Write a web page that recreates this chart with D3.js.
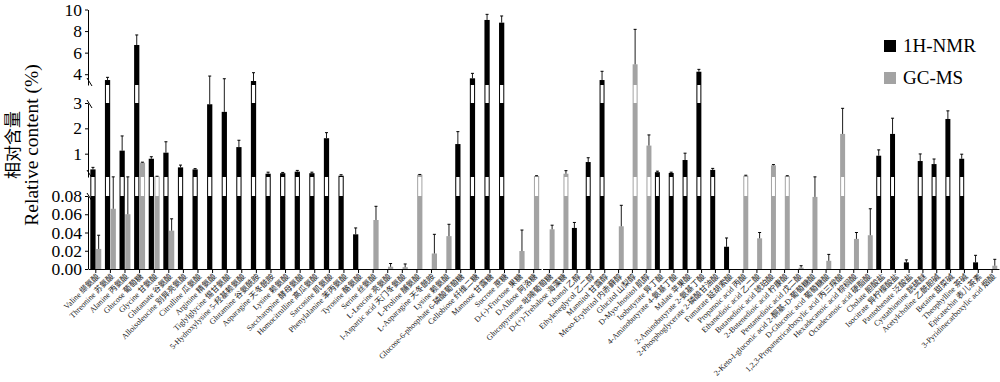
<!DOCTYPE html>
<html><head><meta charset="utf-8">
<script src="https://cdn.jsdelivr.net/npm/d3@7"></script>
<style>body{margin:0;background:#fff}svg{display:block}</style>
</head><body><svg id="c" width="1000" height="382"></svg>
<script>
const categories = [
"Valine 缬氨酸","Threonine 苏氨酸","Alanine 丙氨酸","Glucose 葡萄糖","Glycine 甘氨酸","Glutamate 谷氨酸",
"Alloisoleucine 别异亮氨酸","Citrulline 瓜氨酸","Arginine 精氨酸","Tiglylglycine 惕甘氨酸","5-Hydroxylysine 5-羟基赖氨酸",
"Glutamine 谷氨酰胺","Asparagine 天冬酰胺","Lysine 赖氨酸","Saccharopine 酵母氨酸","Homocitrulline 高瓜氨酸",
"Sarcosine 肌氨酸","Phenylalanine 苯丙氨酸","Tyrosine 酪氨酸","Serine 丝氨酸","L-Leucine 亮氨酸","l-Aspartic acid 天门冬氨酸",
"L-Proline 脯氨酸","L-Asparagine 天冬酰胺","Lysine 赖氨酸","Glucose-6-phosphate 6-磷酸葡萄糖","Cellobiose 纤维二糖",
"Mannose 甘露糖","Sucrose 蔗糖","D-(-)-Fructose 果糖","D-Allose 阿洛糖","Glucopyranose 吡喃葡萄糖","D-(+)-Trehalose 海藻糖",
"Ethanol 乙醇","Ethyleneglycol 乙二醇","Mannitol 甘露醇","Meso-Erythritol 内赤藓醇","Glucitol 山梨醇","D-Myo-Inositol 肌醇",
"Isobutyrate 异丁酸","4-Aminobutyrate 4-氨基丁酸","Malate 苹果酸","2-Aminobutyrate 2-氨基丁酸","2-Phosphoglycerate 2-磷酸甘油酸",
"Fumarate 延胡索酸","Propanoic acid 丙酸","Ethanedioic acid 乙二酸","Butanedioic acid 琥珀酸","2-Butenedioic acid 柠康酸",
"Pentanedioic acid 戊二酸","2-Keto-l-gluconic acid 2-酮基-D-葡萄糖酸","D-Gluconic acid 葡萄糖酸","1,2,3-Propanetricarboxylic acid 丙三羧酸",
"Hexadecanoic acid 棕榈酸","Octadecanoic acid 硬脂酸","Cholate 胆酸盐","Isocitrate 异柠檬酸盐","Pantothenate 泛酸盐",
"Cystathionine 胱硫醚","Acetylcholine 乙酰胆碱","Betaine 甜菜碱","Theophylline 茶碱","Epicatechin 表儿茶素","3-Pyridinecarboxylic acid 烟酸"
];
const nmrValues = [0.38,3.46,1.12,6.71,0.80,1.04,0.46,0.38,2.95,2.65,1.26,3.37,0.21,0.23,0.29,0.23,1.61,0.13,0.038,
null,null,null,null,null,null,1.38,3.62,9.03,8.78,null,null,null,null,0.045,0.67,3.46,null,null,null,0.27,0.24,0.75,4.23,0.36,0.0244,
null,null,null,null,null,null,null,null,null,null,0.92,1.78,0.0073,0.71,0.59,2.37,0.80,0.0073,null];
const nmrErrors = [0.08,0.25,0.58,0.93,0.08,0.43,0.09,0.03,0.88,0.93,0.27,0.77,0.06,0.03,0.05,0.04,0.22,0.04,0.007,
null,null,null,null,null,null,0.49,0.46,0.52,0.62,null,null,null,null,0.006,0.17,0.81,null,null,null,0.04,0.03,0.27,0.22,0.06,0.0096,
null,null,null,null,null,null,null,null,null,null,0.23,0.62,0.0027,0.28,0.20,0.32,0.18,0.0077,null];
const gcValues = [0.022,0.066,0.06,0.645,0.10,0.042,null,null,null,null,null,null,null,null,null,null,null,null,null,
0.0537,0.0025,0.002,0.17,0.017,0.036,null,null,null,null,0.0197,0.12,0.0435,0.21,null,null,null,0.0468,4.92,1.32,
null,null,null,null,null,null,0.13,0.0336,0.54,0.12,0.0015,0.079,0.009,1.78,0.033,0.037,null,null,null,null,null,null,null,null,0.0036];
const gcErrors = [0.015,0.019,0.025,0.02,0.01,0.013,null,null,null,null,null,null,null,null,null,null,null,null,null,
0.015,0.0035,0.0035,0.01,0.021,0.013,null,null,null,null,0.023,0.01,0.0045,0.12,null,null,null,0.023,3.24,0.42,
null,null,null,null,null,null,0.02,0.0064,0.03,0.01,0.0021,0.006,0.007,1.01,0.007,0.029,null,null,null,null,null,null,null,null,0.007];
const yTicksLow = [0,0.02,0.04,0.06,0.08];
const yTicksMid = [1,2,3];
const yTicksHigh = [4,6,8,10];
const seriesNames = ["1H-NMR","GC-MS"];
const seriesColors = ["#000000","#a3a3a3"];
const panelSplit = 31;

const svg = d3.select("#c");
const serif = "'Liberation Serif','Times New Roman','Noto Sans CJK SC',serif";
const axisX = 88, baseY = 269;

const segs = [
  {s: d3.scaleLinear().domain([0,0.08]).range([baseY,196]), ticks: yTicksLow, fmt: d3.format(".2f")},
  {s: d3.scaleLinear().domain([0.08,3]).range([177,103]), ticks: yTicksMid, fmt: d3.format("d")},
  {s: d3.scaleLinear().domain([3,10]).range([85,9.5]), ticks: yTicksHigh, fmt: d3.format("d")}
];
function y(v){
  for (const g of segs){ if (v <= g.s.domain()[1]) return g.s(v); }
  return segs[2].s(v);
}

// y axes
segs.forEach(g=>{
  const ax = svg.append("g").attr("transform",`translate(${axisX},0)`)
    .call(d3.axisLeft(g.s).tickValues(g.ticks).tickFormat(g.fmt).tickSize(3).tickSizeOuter(0));
  ax.select(".domain").attr("stroke","#000");
  ax.selectAll("text").attr("font-family",serif).attr("font-size",17.5).attr("fill","#000").attr("x",-6);
});
// break marks
[segs[2].s.range()[0], segs[1].s.range()[1], segs[1].s.range()[0], segs[0].s.range()[1]].forEach((yy,k)=>{
  const off = (k%2===0) ? -4 : 0;
  svg.append("line").attr("x1",axisX-1).attr("y1",yy+off-3).attr("x2",axisX+4).attr("y2",yy+off+5)
    .attr("stroke","#000").attr("stroke-width",1);
});

// panels
const idx = categories.map((c,i)=>i);
const panels = [
  {ids: idx.slice(0,panelSplit), range:[88.5,541]},
  {ids: idx.slice(panelSplit), range:[542.5,999]}
];
const x1 = d3.scaleBand().domain([0,1]);
const gapsLow = [segs[0].s.range()[1], segs[1].s.range()[0]];
const gapsHigh = [segs[1].s.range()[1], segs[2].s.range()[0]];

panels.forEach(p=>{
  const x0 = d3.scaleBand().domain(p.ids).range(p.range).paddingInner(0.25).paddingOuter(0.125);
  x1.range([0,x0.bandwidth()]).paddingInner(0.08);
  const xa = svg.append("g").attr("transform",`translate(0,${baseY})`)
    .call(d3.axisBottom(x0).tickSize(4).tickSizeOuter(0).tickFormat(""));
  xa.select(".domain").attr("stroke","#000");
  xa.selectAll(".tick line").attr("stroke","#000");

  const rows = p.ids.map(i=>({i, bars:[
    {s:0,v:nmrValues[i],e:nmrErrors[i]},{s:1,v:gcValues[i],e:gcErrors[i]}
  ].filter(b=>b.v!=null)}));

  const g = svg.append("g").selectAll("g").data(rows).join("g")
    .attr("transform",d=>`translate(${x0(d.i)},0)`);
  const b = g.selectAll("g").data(d=>d.bars).join("g");
  b.append("rect").attr("x",d=>x1(d.s)).attr("width",x1.bandwidth())
    .attr("y",d=>y(d.v)).attr("height",d=>baseY-y(d.v)).attr("fill",d=>seriesColors[d.s]);
  b.filter(d=>d.v>0.08).append("rect").attr("x",d=>x1(d.s)+1).attr("width",x1.bandwidth()-2)
    .attr("y",gapsLow[1]).attr("height",gapsLow[0]-gapsLow[1]).attr("fill","#fff");
  b.filter(d=>d.v>3).append("rect").attr("x",d=>x1(d.s)+1).attr("width",x1.bandwidth()-2)
    .attr("y",gapsHigh[1]).attr("height",gapsHigh[0]-gapsHigh[1]).attr("fill","#fff");
  const eb = b.filter(d=>d.e!=null);
  eb.append("line").attr("x1",d=>x1(d.s)+x1.bandwidth()/2).attr("x2",d=>x1(d.s)+x1.bandwidth()/2)
    .attr("y1",d=>y(d.v)).attr("y2",d=>y(d.v+d.e)).attr("stroke","#000").attr("stroke-width",0.9);
  eb.append("line").attr("x1",d=>x1(d.s)+x1.bandwidth()/2-1.5).attr("x2",d=>x1(d.s)+x1.bandwidth()/2+1.5)
    .attr("y1",d=>y(d.v+d.e)).attr("y2",d=>y(d.v+d.e)).attr("stroke","#000").attr("stroke-width",1);

  // labels
  svg.append("g").selectAll("text").data(p.ids).join("text")
    .attr("transform",d=>`translate(${x0(d)+x0.bandwidth()/2+4},${baseY+8}) rotate(-45)`)
    .attr("text-anchor","end").attr("font-family",serif).attr("font-size",8).attr("fill","#222")
    .text(d=>categories[d]);
});

// y title
svg.append("text").attr("transform","translate(38,145) rotate(-90)").attr("text-anchor","middle")
  .attr("font-family",serif).attr("font-size",19.5).attr("fill","#000").text("Relative content (%)");
svg.append("text").attr("transform","translate(18.5,145) rotate(-90)").attr("text-anchor","middle")
  .attr("font-family","'Noto Sans CJK SC',sans-serif").attr("font-size",17).attr("fill","#000").text("相对含量");

// legend
const lg = svg.append("g").attr("transform","translate(884,40)");
seriesNames.forEach((n,k)=>{
  lg.append("rect").attr("x",0).attr("y",k*32).attr("width",12).attr("height",12).attr("fill",seriesColors[k]);
  lg.append("text").attr("x",19).attr("y",k*32+12).attr("font-family",serif).attr("font-size",19)
    .attr("fill","#000").text(n);
});
</script></body></html>
